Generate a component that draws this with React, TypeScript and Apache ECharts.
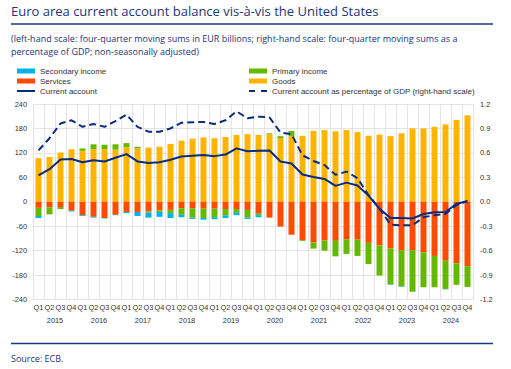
import React, { useEffect, useRef } from "react";
import * as echarts from "echarts";

const years = ["2015", "2016", "2017", "2018", "2019", "2020", "2021", "2022", "2023", "2024"];
const quarters = years.flatMap(() => ["Q1", "Q2", "Q3", "Q4"]);

const goods = [
  107, 110, 121, 129, 125, 129, 129, 128, 134, 131,
  133, 135, 142, 150, 155, 158, 156, 159, 164, 166,
  164, 166, 155, 161, 162, 174, 176, 173, 176, 171,
  162, 165, 161, 168, 180, 180, 184, 190, 201, 212,
];
const services = [
  -15, -14, -13, -22, -33, -37, -40, -32, -25, -25,
  -24, -21, -20, -16, -16, -17, -17, -18, -18, -20,
  -28, -39, -61, -81, -94, -100, -95, -96, -92, -93,
  -101, -107, -115, -119, -119, -124, -133, -145, -151, -158,
];
const primaryIncome = [
  -20, -17, -5, 0, 6, 12, 11, 13, 10, 4,
  -3, -4, -8, -16, -23, -23, -21, -16, -9, -19,
  -5, 2, 6, 13, -2, -15, -25, -38, -36, -40,
  -52, -74, -88, -89, -102, -86, -77, -69, -53, -51,
];
const secondaryIncome = [
  -5, 0, 0, -2, -2, -2, -1, -1, -3, -10,
  -12, -12, -12, -6, -3, -4, -5, -6, -6, -3,
  -5, 0, 0, 0, 0, 0, 0, 0, 0, 0,
  0, 0, -1, -1, 0, 0, 0, -1, 0, 0,
];
const currentAccount = [
  65, 80, 104, 105, 97, 102, 99, 108, 117, 99,
  95, 97, 103, 111, 113, 115, 112, 116, 131, 124,
  125, 126, 99, 94, 67, 61, 56, 39, 47, 40,
  15, -17, -40, -40, -41, -30, -26, -25, -5, 1,
];
const caPctGdp = [
  0.63, 0.78, 0.96, 1.0, 0.92, 0.955, 0.92, 0.99, 1.07, 0.92,
  0.86, 0.86, 0.9, 0.97, 0.975, 0.98, 0.955, 1.0, 1.11, 1.025,
  1.045, 1.035, 0.85, 0.83, 0.57, 0.5, 0.45, 0.33, 0.37, 0.29,
  0.08, -0.085, -0.28, -0.29, -0.29, -0.19, -0.165, -0.15, -0.04, 0.01,
];

const NAVY = "#1b3578";
const LINE = "#0a2c7d";
const AX = "Liberation Sans, Arial, sans-serif";
const GRIDC = "#e4e4e4";
const AXFS = 7.4;

const SOLID_ICON = "path://M0,0h18v2h-18z";
const DASH_ICON = "path://M0,0h6v2h-6zM12,0h6v2h-6z";

export default function App() {
  const ref = useRef<HTMLDivElement>(null);
  useEffect(() => {
    document.body.style.margin = "0";
    const chart = echarts.init(ref.current!, null, { renderer: "svg" });
    const legendText = { fontSize: 8, color: "#333", fontFamily: AX, lineHeight: 10 };
    chart.setOption({
      animation: false,
      backgroundColor: "#ffffff",
      grid: { left: 33, right: 38, top: 104, bottom: 69.5, containLabel: false },
      legend: [
        {
          orient: "vertical",
          left: 17,
          top: 66,
          itemWidth: 18,
          itemHeight: 5,
          itemGap: 0,
          padding: 0,
          textStyle: legendText,
          data: [
            { name: "Secondary income", icon: "rect" },
            { name: "Services", icon: "rect" },
            { name: "Current account", icon: SOLID_ICON },
          ],
        },
        {
          orient: "vertical",
          left: 249,
          top: 66,
          itemWidth: 18,
          itemHeight: 5,
          itemGap: 0,
          padding: 0,
          textStyle: legendText,
          data: [
            { name: "Primary income", icon: "rect" },
            { name: "Goods", icon: "rect" },
            { name: "Current account as percentage of GDP (right-hand scale)", icon: DASH_ICON },
          ],
        },
      ],
      xAxis: [
        {
          type: "category",
          data: quarters,
          boundaryGap: true,
          axisLine: { show: false },
          axisTick: { show: false },
          splitLine: { show: true, lineStyle: { color: GRIDC, width: 1 } },
          axisLabel: { interval: 0, fontSize: AXFS, color: "#333", fontFamily: AX, margin: 4 },
        },
        {
          type: "category",
          data: years,
          position: "bottom",
          boundaryGap: true,
          axisLine: { show: false },
          axisTick: { show: true, length: 30, lineStyle: { color: GRIDC } },
          splitLine: { show: false },
          axisLabel: { interval: 0, fontSize: AXFS, color: "#333", fontFamily: AX, margin: 17 },
        },
      ],
      yAxis: [
        {
          type: "value",
          min: -240,
          max: 240,
          interval: 60,
          axisLine: { show: false },
          axisTick: { show: false },
          splitLine: { show: true, lineStyle: { color: GRIDC } },
          axisLabel: { fontSize: AXFS, color: "#333", fontFamily: AX, margin: 6 },
        },
        {
          type: "value",
          position: "right",
          min: -1.2,
          max: 1.2,
          interval: 0.3,
          axisLine: { show: false },
          axisTick: { show: false },
          splitLine: { show: false },
          axisLabel: {
            fontSize: AXFS,
            color: "#333",
            fontFamily: AX,
            margin: 7,
            formatter: (v: number) => v.toFixed(1),
          },
        },
      ],
      series: [
        { name: "Goods", type: "bar", stack: "t", barWidth: 6, data: goods, itemStyle: { color: "#ffb400" } },
        { name: "Services", type: "bar", stack: "t", barWidth: 6, data: services, itemStyle: { color: "#ff4b00" } },
        { name: "Primary income", type: "bar", stack: "t", barWidth: 6, data: primaryIncome, itemStyle: { color: "#65b800" } },
        { name: "Secondary income", type: "bar", stack: "t", barWidth: 6, data: secondaryIncome, itemStyle: { color: "#00b1ea" } },
        {
          name: "Current account",
          type: "line",
          data: currentAccount,
          symbol: "none",
          lineStyle: { color: LINE, width: 2 },
          itemStyle: { color: LINE },
          z: 5,
        },
        {
          name: "Current account as percentage of GDP (right-hand scale)",
          type: "line",
          yAxisIndex: 1,
          data: caPctGdp,
          symbol: "none",
          lineStyle: { color: LINE, width: 2, type: [7, 4] },
          itemStyle: { color: LINE },
          z: 5,
        },
      ],
      graphic: [
        {
          type: "text",
          x: 11,
          y: 10.5,
          style: {
            text: "Euro area current account balance vis-à-vis the United States",
            fontSize: 13,
            fontFamily: "Open Sans",
            fill: NAVY,
            verticalAlign: "middle",
          },
        },
        {
          type: "line",
          shape: { x1: 11, y1: 24, x2: 493, y2: 24 },
          style: { stroke: NAVY, lineWidth: 1.5 },
        },
        {
          type: "text",
          x: 11,
          y: 38.5,
          style: {
            text: "(left-hand scale: four-quarter moving sums in EUR billions; right-hand scale: four-quarter moving sums as a",
            fontSize: 9,
            fontFamily: "Open Sans",
            fill: NAVY,
            verticalAlign: "middle",
          },
        },
        {
          type: "text",
          x: 11,
          y: 51.5,
          style: {
            text: "percentage of GDP; non-seasonally adjusted)",
            fontSize: 9,
            fontFamily: "Open Sans",
            fill: NAVY,
            verticalAlign: "middle",
          },
        },
        {
          type: "line",
          shape: { x1: 11, y1: 343.5, x2: 493, y2: 343.5 },
          style: { stroke: NAVY, lineWidth: 1.5 },
        },
        {
          type: "text",
          x: 11,
          y: 358,
          style: {
            text: "Source: ECB.",
            fontSize: 9,
            fontFamily: "Open Sans",
            fill: NAVY,
            verticalAlign: "middle",
          },
        },
      ],
    });
    return () => chart.dispose();
  }, []);
  return <div ref={ref} style={{ position: "absolute", left: 0, top: 0, width: 511, height: 369 }} />;
}
